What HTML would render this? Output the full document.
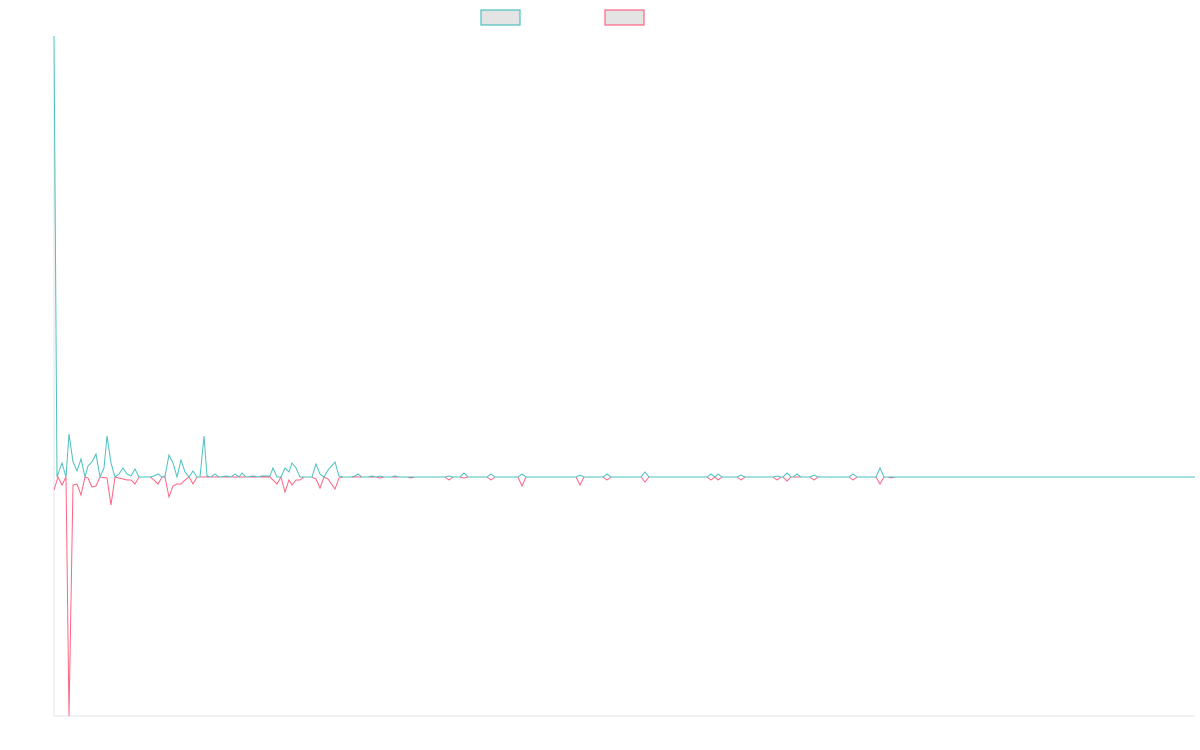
<!DOCTYPE html>
<html><head><meta charset="utf-8"><style>html,body{margin:0;padding:0;background:#fff}svg{display:block}</style></head>
<body>
<svg width="1200" height="750" viewBox="0 0 1200 750" xmlns="http://www.w3.org/2000/svg">
<rect x="481" y="10" width="39" height="15" fill="#e4e4e4" stroke="#4bc0c0" stroke-width="1.2"/>
<rect x="605" y="10" width="39" height="15" fill="#e4e4e4" stroke="#ff6384" stroke-width="1.2"/>
<line x1="54" y1="36" x2="54" y2="716" stroke="#e5e5e5" stroke-width="1"/>
<line x1="54" y1="716" x2="1195" y2="716" stroke="#e5e5e5" stroke-width="1"/>
<polyline fill="none" stroke="#ff6384" stroke-width="1" stroke-linejoin="miter" points="54,490 58,477 62,485 66,477 69,716 73,485 77,484 81,495 85,477 88,478 92,487 96,486 100,477 107,478 111,505 115,477 119,478 127,480 131,480 135,484 139,477 150,477 154,480 158,484 162,477 165,477 169,497 173,486 177,484 181,484 185,480 189,477 193,484 197,477 270,477 273,480 277,484 281,477 285,492 289,480 292,485 296,480 300,480 304,477 312,477 316,479 320,488 324,477 328,479 335,489 339,478 343,477 376,477 380,478 384,477 407,477 411,478 415,477 445,477 449,480 453,477 460,477 464,478 468,477 487,477 491,480 495,477 518,477 522,486 526,477 576,477 580,485 584,477 603,477 607,480 611,477 641,477 645,482 649,477 707,477 711,480 715,477 718,480 722,477 737,477 741,480 745,477 773,477 777,480 781,477 783,477 787,481 791,477 810,477 814,480 818,477 849,477 853,480 857,477 876,477 880,484 884,477 888,477 891,478 895,477 1195,477"/>
<polyline fill="none" stroke="#4bc0c0" stroke-width="1" points="54,36 57,477 62,463 66,477 69,434 73,462 77,471 81,459 85,477 88,466 92,462 96,454 100,477 104,468 107,436 111,463 115,477 119,474 123,468 127,474 131,476 135,469 139,477 150,477 154,476 158,474 162,477 165,476 169,455 173,463 177,477 181,460 185,472 189,477 193,471 197,477 200,477 204,436 207,476 211,477 215,474 219,477 227,476 231,477 235,474 239,477 242,473 246,477 254,476 258,477 262,476 270,476 273,468 277,477 281,477 285,468 289,472 292,463 296,468 300,477 312,477 316,464 320,474 324,477 328,470 335,462 339,476 343,477 351,477 355,476 358,474 362,477 368,477 372,476 376,477 380,476 384,477 391,477 395,476 399,477 445,477 449,476 453,477 460,477 464,473 468,477 487,477 491,474 495,477 518,477 522,474 526,477 576,477 580,475 584,477 603,477 607,474 611,477 641,477 645,472 649,477 707,477 711,474 715,477 718,474 722,477 737,477 741,475 745,477 773,477 777,476 781,477 783,477 787,473 791,477 793,477 797,474 801,477 810,477 814,475 818,477 849,477 853,474 857,477 876,477 880,468 884,477 1195,477"/>
</svg>
</body></html>
